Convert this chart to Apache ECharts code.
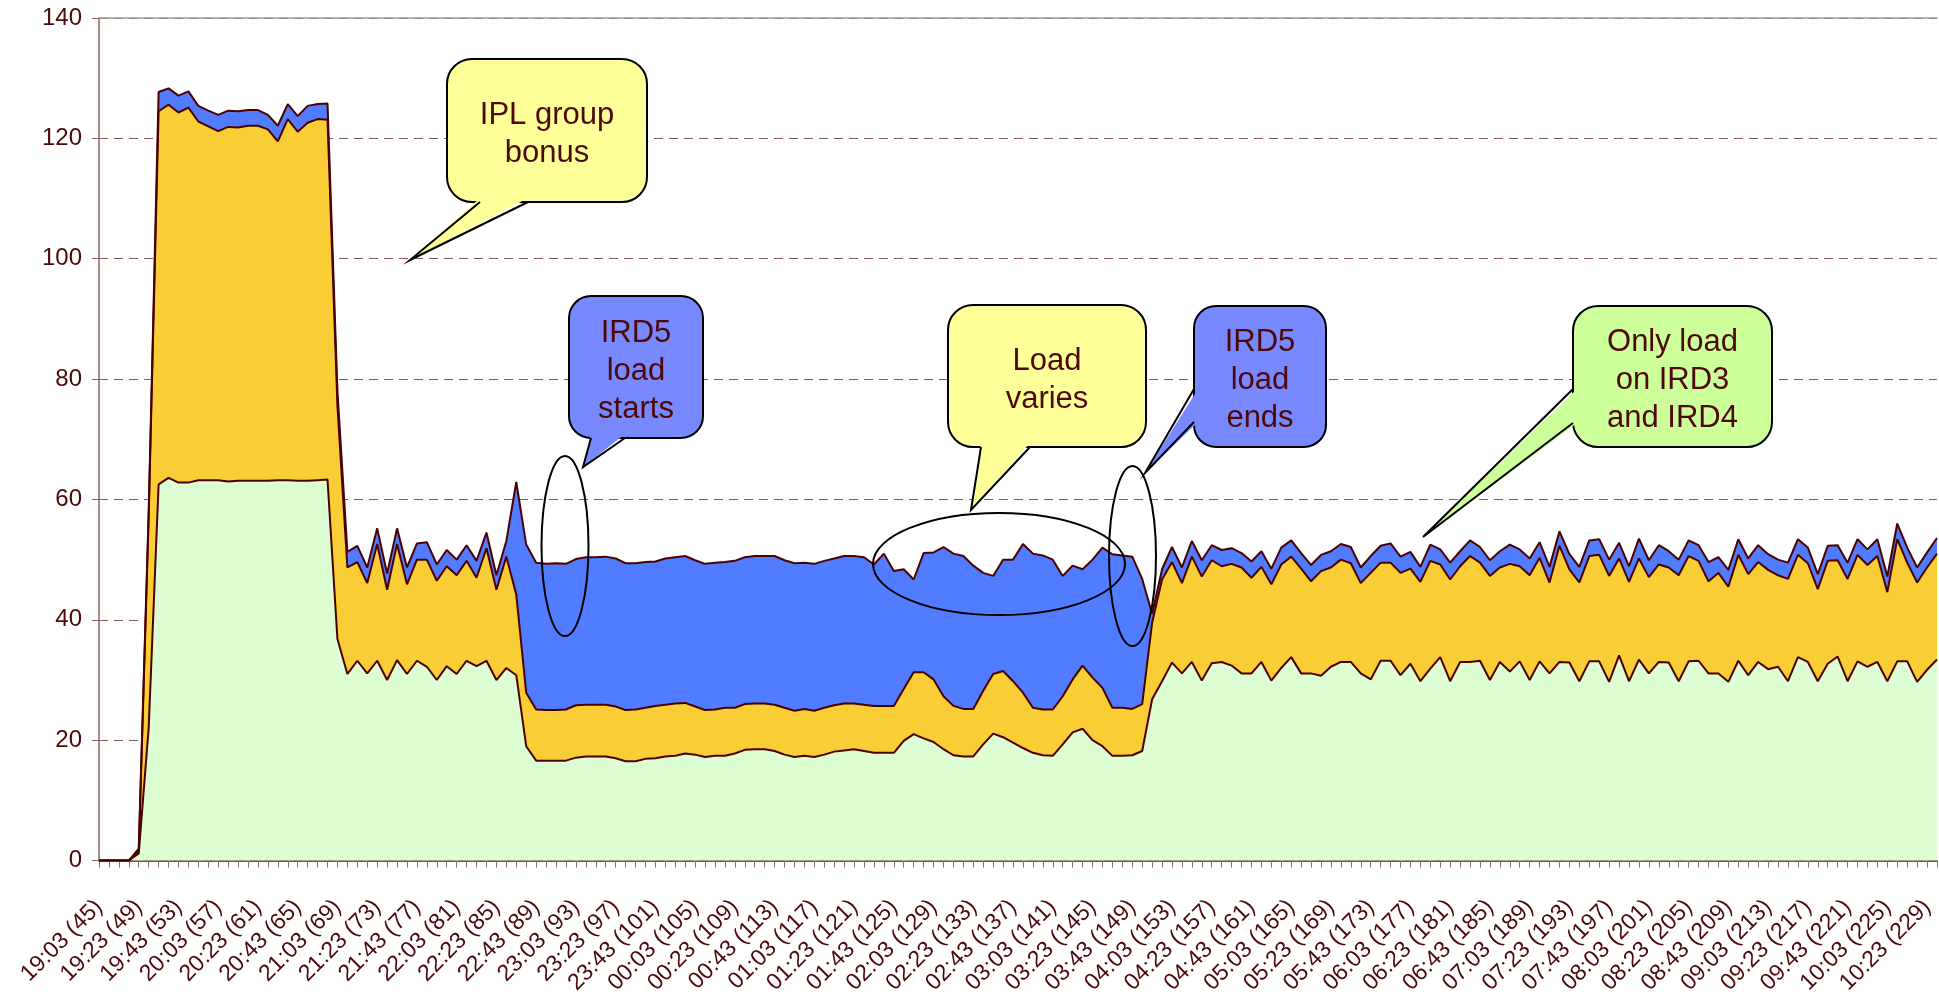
<!DOCTYPE html>
<html>
<head>
<meta charset="utf-8">
<title>IRD load</title>
<script src="https://cdn.jsdelivr.net/npm/echarts@6/dist/echarts.min.js"></script>
<style>
  html, body { margin: 0; padding: 0; background: #fff; }
  #chart { width: 1939px; height: 997px; }
</style>
</head>
<body>
<div id="chart"></div>
<script>
// sample numbers 45..230, one every 5 minutes
const firstSample = 45;
const lastSample = 230;
const samples = [];
for (let s = firstSample; s <= lastSample; s++) samples.push(s);

// time shown on every 4th sample (45, 49, ... 229)
const tickTimes = [
  '19:03', '19:23', '19:43', '20:03', '20:23', '20:43', '21:03', '21:23', '21:43', '22:03',
  '22:23', '22:43', '23:03', '23:23', '23:43', '00:03', '00:23', '00:43', '01:03', '01:23',
  '01:43', '02:03', '02:23', '02:43', '03:03', '03:23', '03:43', '04:03', '04:23', '04:43',
  '05:03', '05:23', '05:43', '06:03', '06:23', '06:43', '07:03', '07:23', '07:43', '08:03',
  '08:23', '08:43', '09:03', '09:23', '09:43', '10:03', '10:23'
];

// bottom layer (light green)
const greenLoad = [
  0, 0, 0, 0, 1.2, 22, 62.5, 63.6, 62.8, 62.8,
  63.2, 63.2, 63.2, 63.0, 63.1, 63.1, 63.1, 63.1, 63.2, 63.2,
  63.1, 63.1, 63.2, 63.3, 36.8, 31.0, 33.2, 31.1, 33.2, 30.0,
  33.3, 31.0, 33.2, 32.2, 30.0, 32.3, 31.0, 33.2, 32.3, 33.2,
  30.0, 32.0, 30.8, 19.0, 16.6, 16.6, 16.6, 16.6, 17.1, 17.3,
  17.3, 17.3, 17.0, 16.5, 16.5, 16.9, 17.0, 17.3, 17.4, 17.8,
  17.6, 17.2, 17.4, 17.4, 17.8, 18.4, 18.5, 18.5, 18.2, 17.6,
  17.2, 17.4, 17.2, 17.6, 18.1, 18.3, 18.5, 18.2, 17.9, 17.9,
  17.9, 19.9, 21.0, 20.3, 19.7, 18.5, 17.5, 17.3, 17.3, 19.3,
  21.1, 20.5, 19.6, 18.7, 17.9, 17.5, 17.4, 19.3, 21.3, 21.9,
  20.0, 19.0, 17.4, 17.4, 17.5, 18.2, 26.8, 29.8, 32.9, 31.1,
  33.0, 29.9, 32.8, 33.0, 32.4, 31.1, 31.1, 33.0, 29.9, 32.0,
  33.8, 31.1, 31.1, 30.7, 32.2, 33.0, 33.0, 31.1, 30.1, 33.2,
  33.2, 30.8, 32.7, 29.8, 31.9, 33.8, 29.8, 33.0, 33.0, 33.2,
  30.0, 33.0, 31.4, 33.1, 30.0, 33.1, 31.1, 33.0, 32.9, 29.8,
  33.1, 33.1, 29.7, 34.1, 29.8, 33.4, 31.1, 33.0, 32.9, 29.8,
  33.1, 33.2, 31.1, 31.1, 29.7, 33.2, 30.8, 33.0, 31.8, 32.2,
  29.8, 33.8, 33.0, 29.8, 32.7, 33.9, 29.8, 33.1, 32.2, 33.0,
  29.8, 33.1, 33.1, 29.7, 31.7, 33.4
];

// middle layer (yellow)
const yellowLoad = [
  0, 0, 0, 0, 0.4, 35, 62.0, 62.0, 61.5, 62.3,
  59.6, 58.8, 58.0, 58.9, 58.7, 59.0, 59.0, 58.4, 56.3, 60.0,
  58.0, 59.5, 60.0, 59.8, 38.7, 17.7, 16.4, 15.0, 19.4, 15.0,
  19.3, 14.9, 16.8, 17.8, 16.5, 16.6, 16.4, 16.6, 14.7, 18.7,
  15.0, 18.5, 13.4, 8.9, 8.5, 8.4, 8.4, 8.5, 8.7, 8.6,
  8.6, 8.6, 8.6, 8.5, 8.6, 8.5, 8.7, 8.6, 8.7, 8.4,
  8.0, 7.8, 7.7, 8.0, 7.6, 7.6, 7.6, 7.6, 7.7, 7.8,
  7.7, 7.8, 7.7, 7.8, 7.7, 7.8, 7.6, 7.7, 7.8, 7.8,
  7.8, 8.6, 10.3, 11.0, 10.4, 8.8, 8.2, 7.9, 7.9, 8.9,
  9.9, 11.0, 10.2, 9.2, 7.5, 7.6, 7.7, 8.0, 8.8, 10.5,
  10.4, 9.7, 8.0, 8.0, 7.7, 7.8, 12.7, 16.9, 16.7, 15.0,
  17.5, 17.3, 17.1, 15.9, 16.9, 17.6, 15.9, 15.8, 16.0, 17.2,
  16.7, 17.4, 15.3, 17.4, 16.5, 17.0, 16.4, 15.0, 17.7, 16.3,
  16.3, 17.0, 15.8, 16.5, 17.9, 15.4, 16.9, 15.9, 17.6, 16.3,
  17.3, 15.7, 17.9, 15.8, 17.4, 17.2, 15.1, 19.3, 15.5, 16.4,
  17.5, 17.7, 17.6, 16.1, 16.5, 16.8, 16.0, 16.2, 15.8, 17.6,
  17.5, 16.6, 15.3, 16.7, 15.8, 17.6, 16.8, 16.6, 16.5, 15.2,
  17.0, 17.0, 16.4, 15.3, 17.1, 16.0, 17.0, 17.7, 16.9, 17.6,
  14.8, 20.3, 16.4, 16.5, 17.0, 17.6
];

// top layer (blue, IRD5)
const blueLoad = [
  0, 0, 0, 0, 0.4, 1.0, 3.2, 2.7, 2.8, 2.7,
  2.6, 2.6, 2.7, 2.7, 2.7, 2.6, 2.6, 2.4, 2.6, 2.5,
  2.6, 2.8, 2.5, 2.7, 2.5, 2.6, 2.7, 2.6, 2.6, 2.7,
  2.6, 2.8, 2.7, 2.9, 2.7, 2.7, 2.6, 2.6, 2.8, 2.6,
  2.4, 2.6, 18.7, 24.6, 24.4, 24.3, 24.4, 24.2, 24.3, 24.5,
  24.5, 24.6, 24.6, 24.4, 24.3, 24.2, 24.0, 24.3, 24.3, 24.4,
  24.3, 24.3, 24.4, 24.2, 24.4, 24.4, 24.5, 24.5, 24.7, 24.5,
  24.5, 24.3, 24.4, 24.4, 24.4, 24.5, 24.5, 24.5, 23.5, 25.3,
  22.4, 19.9, 15.4, 19.8, 21.1, 24.8, 25.3, 25.4, 23.8, 19.6,
  16.3, 18.5, 20.2, 24.7, 25.6, 25.6, 24.9, 20.0, 18.9, 16.0,
  19.6, 23.3, 25.5, 25.3, 25.3, 20.8, 1.5, 1.7, 2.5, 2.6,
  2.6, 2.7, 2.5, 2.7, 2.6, 2.4, 2.7, 2.6, 2.6, 2.8,
  2.7, 2.6, 2.7, 2.7, 2.7, 2.6, 2.7, 2.6, 2.8, 2.8,
  3.2, 2.7, 2.8, 2.5, 2.7, 2.5, 2.8, 2.5, 2.6, 2.6,
  2.6, 2.7, 3.2, 2.8, 2.8, 2.6, 2.6, 2.4, 2.5, 2.6,
  2.6, 2.6, 2.7, 2.6, 2.6, 3.3, 2.8, 3.2, 2.7, 2.6,
  2.6, 2.6, 3.2, 2.6, 2.8, 2.6, 2.6, 2.8, 2.6, 2.6,
  2.7, 2.6, 2.6, 2.5, 2.5, 2.5, 2.7, 2.6, 2.6, 2.8,
  2.6, 2.6, 2.5, 2.5, 2.5, 2.6
];

const textColor = '#4d0808';
const edgeColor = '#4a0000';
const fontFamily = '"Liberation Sans", Arial, sans-serif';

// speech bubble: box + pointer + text
function callout(box, base1, base2, tip, fill, lines, inset) {
  const fillBase1 = [base1[0] + inset[0], base1[1] + inset[1]];
  const fillBase2 = [base2[0] + inset[0], base2[1] + inset[1]];
  return [
    {
      type: 'rect', z: 100,
      shape: { x: box.x, y: box.y, width: box.w, height: box.h, r: box.r },
      style: { fill: fill, stroke: '#000', lineWidth: 2 }
    },
    {
      type: 'polygon', z: 101,
      shape: { points: [fillBase1, tip, fillBase2] },
      style: { fill: fill, stroke: null }
    },
    {
      type: 'polyline', z: 102,
      shape: { points: [base1, tip, base2] },
      style: { fill: null, stroke: '#000', lineWidth: 2 }
    },
    {
      type: 'text', z: 103,
      x: box.x + box.w / 2, y: box.y + box.h / 2 + 4,
      style: {
        text: lines.join('\n'), fill: textColor,
        font: '31px ' + fontFamily, lineHeight: 38,
        align: 'center', verticalAlign: 'middle',
        textAlign: 'center', textVerticalAlign: 'middle'
      }
    }
  ];
}

function ring(cx, cy, rx, ry) {
  return {
    type: 'ellipse', z: 99,
    shape: { cx: cx, cy: cy, rx: rx, ry: ry },
    style: { fill: null, stroke: '#000', lineWidth: 2 }
  };
}

const yellowNote = '#ffff99';
const blueNote = '#7888ff';
const greenNote = '#ccff99';

const notes = [].concat(
  callout({ x: 447, y: 59, w: 200, h: 143, r: 25 }, [480, 202], [528, 202], [410, 260],
    yellowNote, ['IPL group', 'bonus'], [0, -4]),
  callout({ x: 569, y: 296, w: 134, h: 142, r: 22 }, [591, 438], [625, 438], [583, 467],
    blueNote, ['IRD5', 'load', 'starts'], [0, -4]),
  callout({ x: 948, y: 305, w: 198, h: 142, r: 25 }, [981, 447], [1030, 447], [971, 510],
    yellowNote, ['Load', 'varies'], [0, -4]),
  callout({ x: 1194, y: 306, w: 132, h: 141, r: 22 }, [1194, 389], [1194, 422], [1145, 473],
    blueNote, ['IRD5', 'load', 'ends'], [4, 0]),
  callout({ x: 1573, y: 306, w: 199, h: 141, r: 25 }, [1573, 389], [1573, 423], [1423, 537],
    greenNote, ['Only load', 'on IRD3', 'and IRD4'], [4, 0]),
  [ring(565, 546, 23.5, 90), ring(999, 564, 126, 51), ring(1132.5, 556, 23.5, 90)]
);

function layer(name, data, color) {
  return {
    name: name,
    type: 'line',
    stack: 'load',
    data: data,
    symbol: 'none',
    animation: false,
    lineStyle: { color: edgeColor, width: 2 },
    areaStyle: { color: color, opacity: 1 }
  };
}

const chart = echarts.init(document.getElementById('chart'), null, { renderer: 'canvas' });

chart.setOption({
  backgroundColor: '#ffffff',
  animation: false,
  grid: { left: 99, right: 2, top: 18, bottom: 136 },
  xAxis: [
    {
      type: 'category',
      data: samples,
      boundaryGap: false,
      axisLine: { lineStyle: { color: '#5a1a1a', width: 1.5 } },
      axisTick: { interval: 0, length: 7, lineStyle: { color: '#8b6a6a' } },
      axisLabel: {
        interval: 3,
        rotate: 45,
        margin: 43,
        color: textColor,
        fontFamily: fontFamily,
        fontSize: 23,
        formatter: function (value, idx) {
          return tickTimes[idx / 4] + ' (' + value + ')';
        }
      },
      splitLine: { show: false }
    },
    {
      type: 'category',
      position: 'top',
      data: samples,
      boundaryGap: false,
      axisLine: { lineStyle: { color: '#a39a8a', width: 1.5 } },
      axisTick: { show: false },
      axisLabel: { show: false }
    }
  ],
  yAxis: {
    type: 'value',
    min: 0,
    max: 140,
    interval: 20,
    axisLine: { show: true, lineStyle: { color: '#8b6060', width: 1.5 } },
    axisTick: { show: true, length: 7, lineStyle: { color: '#8b6060' } },
    axisLabel: { color: textColor, fontFamily: fontFamily, fontSize: 24, margin: 17 },
    splitLine: { lineStyle: { color: '#8b5a5a', type: [9, 6], width: 1 } }
  },
  series: [
    layer('IRD3', greenLoad, '#dcfed2'),
    layer('IRD4', yellowLoad, '#f9cd35'),
    layer('IRD5', blueLoad, '#527cff')
  ],
  graphic: { elements: notes }
});

window.addEventListener('resize', function () {
  chart.resize();
});
</script>
</body>
</html>
